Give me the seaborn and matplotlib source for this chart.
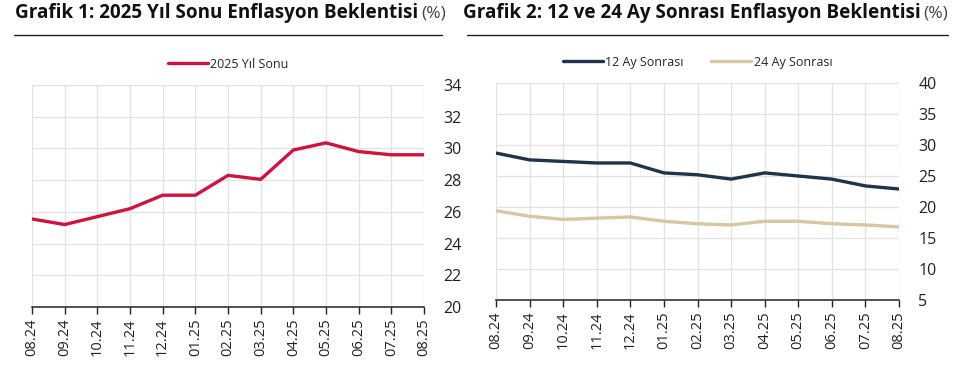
import numpy as np
import pandas as pd
import seaborn as sns
from matplotlib import pyplot as plt

"""
Data
"""
months = ['08.24', '09.24', '10.24', '11.24', '12.24', '01.25', '02.25',
          '03.25', '04.25', '05.25', '06.25', '07.25', '08.25']
yil_sonu_2025 = [25.55, 25.2, 25.7, 26.2, 27.05, 27.05, 28.3, 28.05, 29.9,
                 30.35, 29.8, 29.6, 29.6]
ay12_sonrasi = [28.7, 27.6, 27.35, 27.1, 27.1, 25.5, 25.2, 24.5, 25.5, 25.0,
                24.5, 23.4, 22.9]
ay24_sonrasi = [19.4, 18.5, 18.0, 18.2, 18.4, 17.7, 17.3, 17.1, 17.7, 17.7,
                17.3, 17.1, 16.8]

RED = '#d2113d'
NAVY = '#1e344c'
BEIGE = '#d8c6a0'
GRID = '#e2e2e2'

sns.set_style('white')
plt.rcParams['font.family'] = ['Open Sans', 'DejaVu Sans']

idx = np.arange(len(months))
df1 = pd.DataFrame({'i': idx, 'val': yil_sonu_2025, 'seri': '2025 Yıl Sonu'})
df2 = pd.concat([
   pd.DataFrame({'i': idx, 'val': ay12_sonrasi, 'seri': '12 Ay Sonrası'}),
   pd.DataFrame({'i': idx, 'val': ay24_sonrasi, 'seri': '24 Ay Sonrası'}),
])

fig = plt.figure(figsize=(9.6, 3.71), dpi=100)
ax1 = fig.add_axes([32 / 960, 64 / 371, 392 / 960, 222 / 371])
ax2 = fig.add_axes([496 / 960, 71 / 371, 403 / 960, 217 / 371])


def style_axis(ax, yticks):
   ax.set_xlim(0, len(months) - 1)
   ax.set_ylim(yticks[0], yticks[-1])
   ax.set_xticks(idx)
   ax.set_xticklabels(months, rotation=90, fontsize=10.5, color='#222222')
   ax.set_yticks(yticks)
   ax.set_yticklabels([str(t) for t in yticks], fontsize=11.5, color='#222222')
   ax.yaxis.tick_right()
   ax.tick_params(axis='y', length=0, pad=14)
   ax.tick_params(axis='x', direction='out', length=5, width=1, color='#222222',
                  bottom=True, pad=3)
   ax.grid(True, color=GRID, linewidth=0.9)
   for side in ['left', 'right', 'top']:
      ax.spines[side].set_visible(False)
   ax.spines['bottom'].set_color('#222222')
   ax.spines['bottom'].set_linewidth(1.1)
   ax.set_xlabel('')
   ax.set_ylabel('')


sns.lineplot(data=df1, x='i', y='val', hue='seri', palette=[RED],
             linewidth=2.4, ax=ax1)
style_axis(ax1, list(range(20, 35, 2)))
ax1.legend(loc='lower center', bbox_to_anchor=(0.5, 1.02), frameon=False,
           fontsize=9, handlelength=3.2, handletextpad=0.2,
           borderaxespad=0.4)

sns.lineplot(data=df2, x='i', y='val', hue='seri', palette=[NAVY, BEIGE],
             linewidth=2.4, ax=ax2)
style_axis(ax2, list(range(5, 41, 5)))
ax2.legend(loc='lower center', bbox_to_anchor=(0.5, 1.02), frameon=False,
           fontsize=9, ncol=2, handlelength=3.2, handletextpad=0.2,
           columnspacing=2.2, borderaxespad=0.4)

# titles, "(%)" placed right after the bold part, and separator lines
renderer = fig.canvas.get_renderer()
titles = [(15, 'Grafik 1: 2025 Yıl Sonu Enflasyon Beklentisi'),
          (463, 'Grafik 2: 12 ve 24 Ay Sonrası Enflasyon Beklentisi')]
for x0, title in titles:
   t = fig.text(x0 / 960, 1 - 18 / 371, title, fontsize=13.6,
                fontweight='bold', va='baseline', ha='left', color='#111111')
   bb = t.get_window_extent(renderer)
   fig.text(bb.x1 / 960 + 3 / 960, 1 - 18 / 371, '(%)', fontsize=12.5,
            va='baseline', ha='left', color='#444444')

fig.add_artist(plt.Line2D([14 / 960, 442 / 960], [1 - 35 / 371, 1 - 35 / 371],
                          color='#222222', linewidth=1))
fig.add_artist(plt.Line2D([467 / 960, 948 / 960], [1 - 35 / 371, 1 - 35 / 371],
                          color='#222222', linewidth=1))

plt.savefig('out.png', dpi=100)
